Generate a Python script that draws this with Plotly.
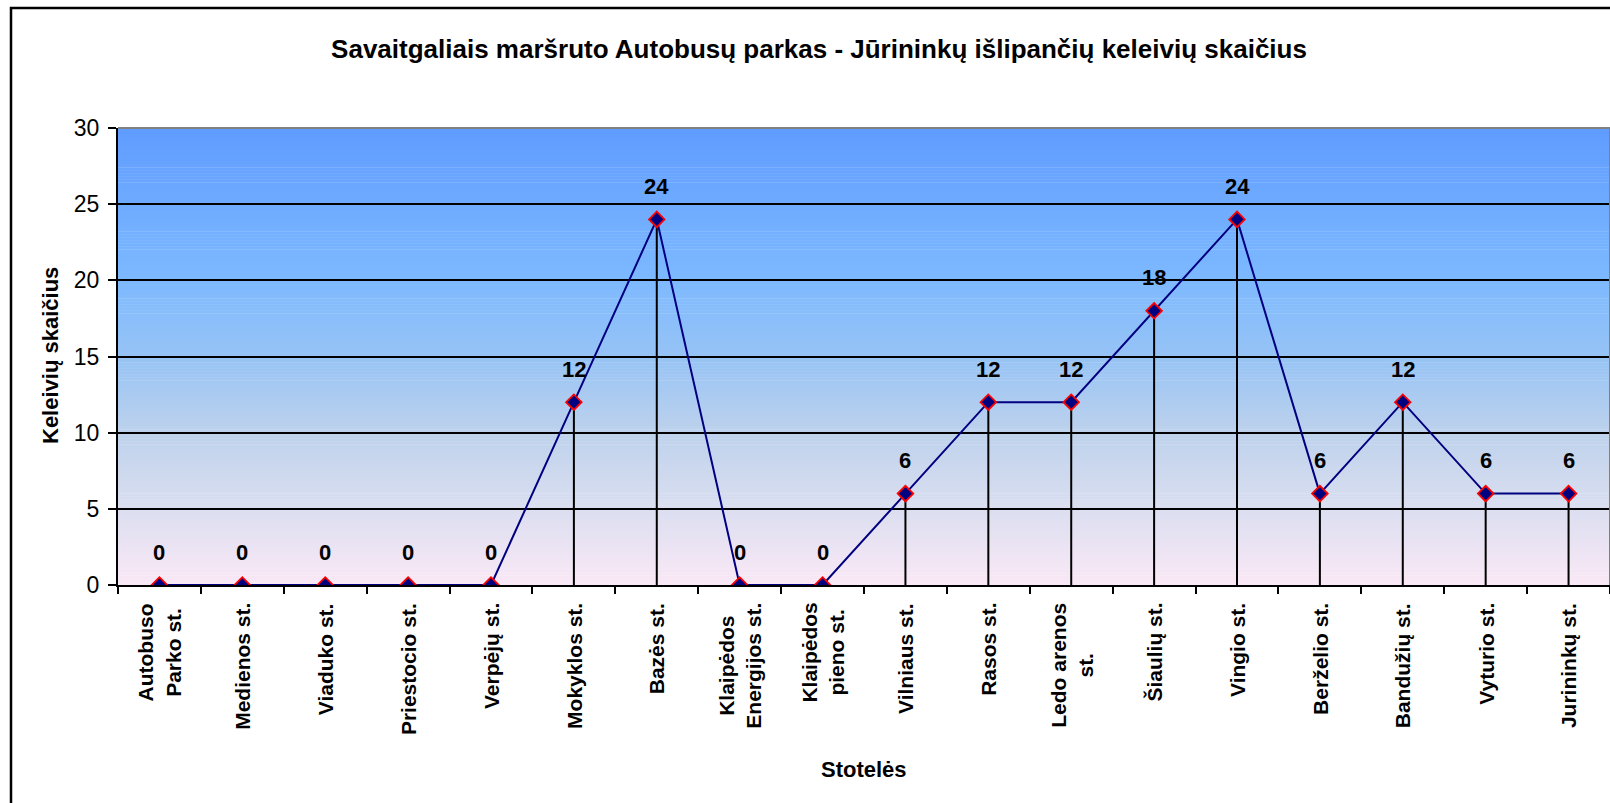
import plotly.graph_objects as go

# Stops along the weekend route and passengers getting off at each one
stops = [
    "Autobuso<br>Parko st.", "Medienos st.", "Viaduko st.", "Priestocio st.",
    "Verpėjų st.", "Mokyklos st.", "Bazės st.", "Klaipėdos<br>Energijos st.",
    "Klaipėdos<br>pieno st.", "Vilniaus st.", "Rasos st.", "Ledo arenos<br>st.",
    "Šiaulių st.", "Vingio st.", "Berželio st.", "Bandužių st.",
    "Vyturio st.", "Jurininkų st.",
]
passengers = [0, 0, 0, 0, 0, 12, 24, 0, 0, 6, 12, 12, 18, 24, 6, 12, 6, 6]

y_ticks = [0, 5, 10, 15, 20, 25, 30]

title_text = "Savaitgaliais maršruto Autobusų parkas - Jūrininkų išlipančių keleivių skaičius"
x_title = "Stotelės"
y_title = "Keleivių skaičius"

W, H = 1610, 803
ML, MR, MT, MB = 118, 0, 128, 218
PW, PH = W - ML - MR, H - MT - MB
FONT = "Liberation Sans, Arial, sans-serif"


def px_x(px):
    return (px - ML) / PW


def px_y(py):
    return (H - MB - py) / PH


x_idx = list(range(len(stops)))

fig = go.Figure()

fig.add_trace(go.Scatter(
    x=x_idx,
    y=passengers,
    mode="lines+markers",
    line=dict(color="#000080", width=2),
    marker=dict(symbol="diamond", size=12, color="#000080",
                line=dict(color="#FF0000", width=1.8)),
    error_y=dict(type="data", symmetric=False,
                 array=[0] * len(passengers), arrayminus=passengers,
                 color="black", thickness=2, width=0),
    showlegend=False,
    hoverinfo="skip",
))

# Vertical gradient of the plot background
stops_col = [
    (0.00, (95, 156, 255)),
    (0.33, (125, 185, 255)),
    (0.50, (150, 195, 245)),
    (0.67, (190, 210, 236)),
    (0.83, (218, 222, 240)),
    (1.00, (250, 232, 246)),
]


def grad(t):
    for (t0, c0), (t1, c1) in zip(stops_col[:-1], stops_col[1:]):
        if t0 <= t <= t1:
            f = (t - t0) / (t1 - t0) if t1 > t0 else 0
            return tuple(round(a + (b - a) * f) for a, b in zip(c0, c1))
    return stops_col[-1][1]


shapes = []
n_strips = 150
for i in range(n_strips):
    t = (i + 0.5) / n_strips  # from the top
    r, g, b = grad(t)
    y1 = 1 - i / n_strips
    y0 = 1 - (i + 1) / n_strips
    shapes.append(dict(type="rect", xref="paper", yref="paper",
                       x0=0, x1=1, y0=y0, y1=y1 + 0.001,
                       fillcolor=f"rgb({r},{g},{b})", line=dict(width=0),
                       layer="below"))

# Gray border of the plot area (top and right)
shapes.append(dict(type="line", xref="paper", yref="paper", x0=0, x1=1, y0=1, y1=1,
                   line=dict(color="#808080", width=2)))
shapes.append(dict(type="line", xref="paper", yref="paper", x0=1, x1=1, y0=0, y1=1,
                   line=dict(color="#808080", width=2)))

# Outer chart frame
shapes.append(dict(type="path", xref="paper", yref="paper",
                   path=f"M {px_x(11)} {px_y(H + 5)} L {px_x(11)} {px_y(8)} L {px_x(W + 5)} {px_y(8)}",
                   line=dict(color="black", width=2.5)))

annotations = []
# Value labels above the points
for i, v in enumerate(passengers):
    annotations.append(dict(x=i, y=v, xref="x", yref="y", text=f"<b>{v}</b>",
                            showarrow=False, yshift=33, yanchor="middle",
                            font=dict(family=FONT, size=22, color="black")))

# Rotated category labels under the axis
for i, s in enumerate(stops):
    annotations.append(dict(x=i, y=px_y(601), xref="x", yref="paper",
                            text=f"<b>{s}</b>", showarrow=False, textangle=-90,
                            xanchor="center", yanchor="top", align="center",
                            font=dict(family=FONT, size=21, color="black")))

# Axis titles
annotations.append(dict(x=0.5, y=px_y(769), xref="paper", yref="paper",
                        text=f"<b>{x_title}</b>", showarrow=False,
                        xanchor="center", yanchor="middle",
                        font=dict(family=FONT, size=22, color="black")))
annotations.append(dict(x=px_x(50), y=px_y(356), xref="paper", yref="paper",
                        text=f"<b>{y_title}</b>", showarrow=False, textangle=-90,
                        xanchor="center", yanchor="middle",
                        font=dict(family=FONT, size=22, color="black")))

fig.update_layout(
    width=W, height=H,
    margin=dict(l=ML, r=MR, t=MT, b=MB),
    paper_bgcolor="white",
    plot_bgcolor="white",
    title=dict(text=f"<b>{title_text}</b>", x=819 / W, y=1 - 49 / H,
               xref="container", yref="container",
               xanchor="center", yanchor="middle",
               font=dict(family=FONT, size=26, color="black")),
    xaxis=dict(
        range=[-0.5, len(stops) - 0.5],
        tickmode="array", tickvals=[i + 0.5 for i in range(-1, len(stops))],
        showticklabels=False,
        ticks="outside", ticklen=7, tickwidth=1.5, tickcolor="black",
        showgrid=False, zeroline=False,
        showline=True, linecolor="black", linewidth=2,
    ),
    yaxis=dict(
        range=[0, 30],
        tickmode="array", tickvals=y_ticks, ticktext=[str(v) for v in y_ticks],
        ticks="outside", ticklen=8, tickwidth=1.5, tickcolor="black",
        ticklabelstandoff=4,
        tickfont=dict(family=FONT, size=23, color="black"),
        showgrid=True, gridcolor="black", gridwidth=1.5,
        zeroline=False,
        showline=True, linecolor="black", linewidth=2,
    ),
    shapes=shapes,
    annotations=annotations,
    showlegend=False,
)

fig.write_html("out.html")
